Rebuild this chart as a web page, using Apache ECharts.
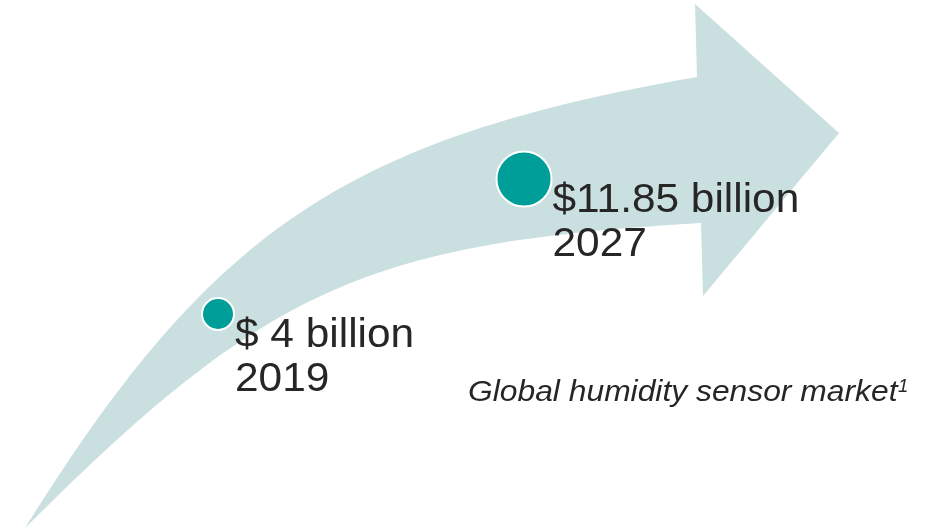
<!DOCTYPE html>
<html>
<head>
<meta charset="utf-8">
<script src="https://cdn.jsdelivr.net/npm/echarts@6/dist/echarts.min.js"></script>
<style>
  html, body { margin: 0; padding: 0; background: #ffffff; }
  #chart { width: 938px; height: 529px; }
</style>
</head>
<body>
<div id="chart"></div>
<script>
// Market size, USD billions
const years = [2019, 2027];
const marketValues = [4, 11.85];
const valueLabels = ['$ 4 billion', '$11.85 billion'];
const captionText = 'Global humidity sensor market';
const footnoteMark = '1';

const TEXT = '#262626';
const DOT = '#009e99';
const ARROW = '#cadfdf';
const FONT = '"Liberation Sans", Arial, sans-serif';
const WIDEN = 1.06; // slightly widened lettering

// Dot area grows with market value
const dotSize = (v) => 16 * Math.sqrt(v);

// Sample a cubic Bezier curve into polygon points
function cubicPoints(p0, p1, p2, p3, n) {
  const pts = [];
  for (let i = 0; i <= n; i++) {
    const t = i / n, u = 1 - t;
    pts.push([
      u*u*u*p0[0] + 3*u*u*t*p1[0] + 3*u*t*t*p2[0] + t*t*t*p3[0],
      u*u*u*p0[1] + 3*u*u*t*p1[1] + 3*u*t*t*p2[1] + t*t*t*p3[1]
    ]);
  }
  return pts;
}
function lerp(a, b, k) { return [a[0] + (b[0] - a[0]) * k, a[1] + (b[1] - a[1]) * k]; }

// Curved growth arrow behind the markers
const tail = [25, 528];
const upperEnd = [697, 77];
const upperCtrl = [258, 154];
const lowerEnd = [701, 223];
const lowerCtrl = [307, 246];
const upperEdge = cubicPoints(tail, lerp(tail, upperCtrl, 0.8), lerp(upperEnd, upperCtrl, 0.8), upperEnd, 60);
const lowerEdge = cubicPoints(lowerEnd, lerp(lowerEnd, lowerCtrl, 0.85), lerp(tail, lowerCtrl, 0.85), tail, 60);
const arrowPoints = upperEdge
  .concat([[695, 4], [839, 133], [703, 296]])
  .concat(lowerEdge);

const chart = echarts.init(document.getElementById('chart'));
const points = years.map((y, i) => [y, marketValues[i]]);

chart.setOption({
  animation: false,
  backgroundColor: '#ffffff',
  grid: { left: 26.75, right: 146.25, top: 38.8, bottom: 146.2 },
  xAxis: { type: 'value', min: 2014, max: 2034, show: false },
  yAxis: { type: 'value', min: 0, max: 20, show: false },
  graphic: [
    {
      type: 'polygon',
      z: 0,
      silent: true,
      shape: { points: arrowPoints },
      style: { fill: ARROW }
    },
    {
      type: 'text',
      z: 5,
      x: 468,
      y: 392.5,
      scaleX: WIDEN,
      style: {
        text: captionText,
        font: 'italic 30px ' + FONT,
        fill: TEXT,
        verticalAlign: 'middle',
        align: 'left'
      }
    },
    {
      type: 'text',
      z: 5,
      x: 898,
      y: 387,
      scaleX: WIDEN,
      style: {
        text: footnoteMark,
        font: 'italic 17.5px ' + FONT,
        fill: TEXT,
        verticalAlign: 'middle',
        align: 'left'
      }
    }
  ],
  series: [
    {
      type: 'scatter',
      z: 3,
      data: points,
      symbol: 'circle',
      symbolSize: (val) => dotSize(val[1]),
      itemStyle: { color: DOT, borderColor: '#ffffff', borderWidth: 2, opacity: 1 },
      emphasis: { disabled: true }
    },
    {
      // value and year printed to the right of each dot
      type: 'custom',
      z: 4,
      silent: true,
      data: points,
      renderItem: (params, api) => {
        const v = api.value(1);
        const pt = api.coord([api.value(0), v]);
        const i = params.dataIndex;
        return {
          type: 'text',
          x: pt[0] + dotSize(v) / 2 + 1,
          y: pt[1],
          scaleX: WIDEN,
          style: {
            text: valueLabels[i] + '\n' + years[i],
            font: '40px ' + FONT,
            lineHeight: 44,
            fill: TEXT,
            align: 'left',
            verticalAlign: 'top'
          }
        };
      }
    }
  ]
});
</script>
</body>
</html>
